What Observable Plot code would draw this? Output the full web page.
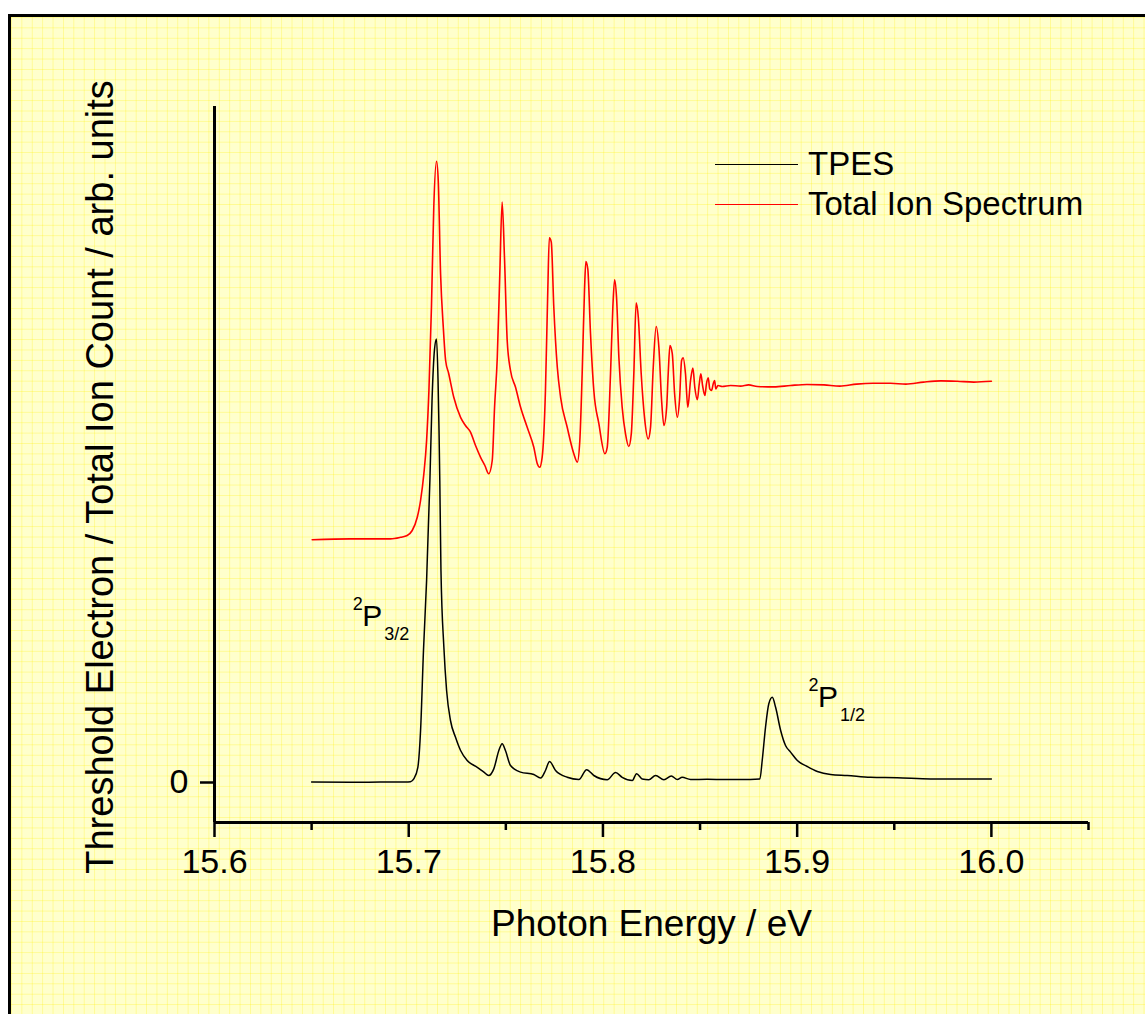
<!DOCTYPE html>
<html>
<head>
<meta charset="utf-8">
<script src="https://cdn.jsdelivr.net/npm/d3@7"></script>
<script src="https://cdn.jsdelivr.net/npm/@observablehq/plot@0.6"></script>
<style>
html, body { margin: 0; padding: 0; background: #fff; overflow: hidden; width: 1145px; height: 1014px; }
#page { position: relative; width: 1145px; height: 1014px; font-family: "Liberation Sans", Arial, sans-serif; }
#sheet {
  position: absolute; left: 8px; top: 14px; width: 1200px; height: 1100px;
  border-left: 3px solid #000; border-top: 3px solid #000; box-sizing: border-box;
  background-color: #FFFFCC;
  background-image:
    linear-gradient(to right, rgba(255, 240, 0, 0.28) 1px, transparent 1px),
    linear-gradient(to bottom, rgba(255, 240, 0, 0.28) 1px, transparent 1px);
  background-size: 10.4px 10.4px;
}
#chart { position: absolute; left: 0; top: 0; }
#legend { position: absolute; left: 715px; top: 144px; font-size: 33px; color: #000; }
.legend-row { display: flex; align-items: center; height: 40px; white-space: nowrap; }
.swatch { width: 83px; height: 0; border-top: 1.5px solid; margin-right: 10px; }
</style>
</head>
<body>
<div id="page">
  <div id="sheet"></div>
  <div id="chart"></div>
  <div id="legend"></div>
</div>
<script>
// ---- Data ----
const seriesNames = ["TPES", "Total Ion Spectrum"];
const seriesColors = ["#000000", "#ff0000"];

const tpesEnergy = [15.65, 15.6700, 15.6855, 15.6984, 15.7009, 15.7026, 15.7047, 15.7061, 15.7076, 15.7092,
  15.7109, 15.7120, 15.7133, 15.7143, 15.7151, 15.7156, 15.7160, 15.7166, 15.7181, 15.7195,
  15.7215, 15.7241, 15.7267, 15.7301, 15.7353, 15.7387, 15.7412, 15.7438, 15.7464, 15.7481,
  15.7498, 15.7524, 15.7576, 15.7644, 15.7679, 15.7704, 15.7725, 15.7756, 15.7816, 15.7876,
  15.7916, 15.7953, 15.8022, 15.8065, 15.8099, 15.8151, 15.8173, 15.8202, 15.8236, 15.8271,
  15.8314, 15.8352, 15.8383, 15.8408, 15.8451, 15.8537, 15.8631, 15.8709, 15.8808, 15.8820,
  15.8837, 15.8854, 15.8872, 15.8889, 15.8915, 15.8940, 15.8966, 15.9001, 15.9052, 15.9104,
  15.9172, 15.9258, 15.9378, 15.9515, 15.9687, 15.9858, 16.0];
const tpesSignal = [0.1, 0.05, 0.1, 0.1, 0.2, 0.9, 3.8, 13, 33, 50.5,
  75.5, 95.5, 108.4, 110.9, 100.5, 88, 75.5, 53, 33.8, 23,
  15.5, 11.3, 8, 5.5, 3.8, 2.6, 1.75, 3.4, 8, 9.7,
  8, 4.25, 2.6, 2, 1.1, 3, 5.25, 3, 1.3, 0.75,
  3.2, 1.75, 0.7, 2.5, 1.3, 0.5, 2.2, 0.9, 0.7, 1.75,
  0.7, 1.6, 0.75, 1.3, 0.75, 0.8, 0.75, 0.75, 0.9, 5.5,
  13.8, 19.7, 21.3, 18.8, 13, 9.25, 7.6, 5.5, 4, 2.75,
  2, 1.75, 1.3, 1.2, 0.9, 0.9, 0.9];

const ionEnergy = [15.6503, 15.6700, 15.6906, 15.6958, 15.6992, 15.7018, 15.7044, 15.7061, 15.7078, 15.7092,
  15.7104, 15.7117, 15.7129, 15.7143, 15.7152, 15.7164, 15.7178, 15.7190, 15.7206, 15.7232,
  15.7267, 15.7292, 15.7318, 15.7344, 15.7370, 15.7392, 15.7412, 15.7430, 15.7442, 15.7456,
  15.7469, 15.7481, 15.7493, 15.7507, 15.7524, 15.7550, 15.7576, 15.7610, 15.7644, 15.7662,
  15.7674, 15.7687, 15.7704, 15.7716, 15.7724, 15.7734, 15.7747, 15.7765, 15.7782, 15.7816,
  15.7850, 15.7868, 15.7881, 15.7893, 15.7905, 15.7912, 15.7922, 15.7936, 15.7953, 15.7979,
  15.8010, 15.8022, 15.8039, 15.8051, 15.8060, 15.8070, 15.8082, 15.8099, 15.8116, 15.8133,
  15.8146, 15.8159, 15.8171, 15.8182, 15.8197, 15.8214, 15.8233, 15.8245, 15.8259, 15.8274,
  15.8288, 15.8302, 15.8314, 15.8328, 15.8336, 15.8345, 15.8357, 15.8369, 15.8383, 15.8394,
  15.8405, 15.8413, 15.8425, 15.8437, 15.8451, 15.8463, 15.8473, 15.8486, 15.8496, 15.8504,
  15.8513, 15.8525, 15.8533, 15.8542, 15.8550, 15.8559, 15.8568, 15.8575, 15.8581, 15.8592,
  15.8614, 15.8657, 15.8709, 15.8750, 15.8795, 15.8880, 15.8966, 15.9050, 15.9138, 15.9220,
  15.9306, 15.9390, 15.9481, 15.9560, 15.9651, 15.9740, 15.9824, 15.9910, 16.0];
const ionSignal = [60.7, 60.9, 60.9, 61.3, 61.75, 63, 66.3, 70.5, 77.2, 85.5,
  98, 118.8, 143.8, 155.3, 150.5, 127.2, 113.8, 105.5, 102.2, 96.3,
  91.3, 89.25, 87.6, 84.25, 81.3, 79.25, 77.2, 80.5, 93.8, 106.3,
  127.2, 145.1, 131.3, 110.5, 103, 98.8, 93.8, 88.8, 83.8, 79.7,
  78.8, 81.3, 98, 123, 136.2, 135.1, 118.8, 103.8, 96.3, 88.8,
  82.2, 80.1, 85.5, 102.2, 123, 130.25, 128.4, 112.2, 98, 89.7,
  82.2, 83.8, 102.2, 118.8, 125.7, 121.3, 106.3, 93.8, 87.2, 84,
  87.2, 102.2, 119.9, 116.3, 102.2, 91.3, 85.9, 88.8, 103.8, 114,
  108.8, 95.5, 89.25, 93.8, 102.2, 109.25, 107.2, 97.2, 91.3, 95.5,
  105.5, 106.2, 102.2, 93.8, 100.5, 103.6, 98.8, 95.7, 99.7, 102.2,
  99.25, 96.75, 99.7, 101.2, 98.4, 98, 99.7, 100.5, 98.4, 99.25,
  99, 99.25, 99.1, 99.4, 99, 98.9, 99.25, 99.5, 99.4, 99.1,
  99.6, 99.8, 99.8, 99.6, 100.1, 100.4, 100.3, 100.1, 100.3];

const xMajorTicks = [15.6, 15.7, 15.8, 15.9, 16.0];
const xMinorTicks = [15.65, 15.75, 15.85, 15.95, 16.05];
const yTicks = [0];
const xDomain = [15.6, 16.05];
const yDomain = [-10, 169];

const annotationTerm = ["P", "P"];
const annotationSup = ["2", "2"];
const annotationSub = ["3/2", "1/2"];
const annotationEnergy = [15.6761, 15.9107];
const annotationLevel = [39.25, 19];

const xTitle = "Photon Energy / eV";
const yTitle = "Threshold Electron / Total Ion Count / arb. units";

// ---- Build tables ----
const tpes = tpesEnergy.map((e, i) => ({energy: e, signal: tpesSignal[i]}));
const ion = ionEnergy.map((e, i) => ({energy: e, signal: ionSignal[i]}));
const annotations = annotationTerm.map((t, i) => ({
  term: t, sup: annotationSup[i], sub: annotationSub[i],
  energy: annotationEnergy[i], level: annotationLevel[i]
}));

const font = "Liberation Sans, Arial, sans-serif";

const chart = Plot.plot({
  width: 1145,
  height: 1014,
  marginLeft: 214,
  marginRight: 57,
  marginTop: 106,
  marginBottom: 192,
  style: {background: "transparent", fontFamily: font, color: "#000", overflow: "visible"},
  x: {domain: xDomain},
  y: {domain: yDomain},
  marks: [
    Plot.axisX({ticks: xMajorTicks, tickFormat: d3.format(".1f"), tickSize: 15, tickPadding: 11,
      fontSize: 34, strokeWidth: 2.5, label: null}),
    Plot.axisX({ticks: xMinorTicks, tickFormat: () => "", tickSize: 8, strokeWidth: 2.5, label: null}),
    Plot.axisY({ticks: yTicks, tickFormat: d => String(d), tickSize: 14, tickPadding: 12,
      fontSize: 34, strokeWidth: 2.5, label: null}),
    Plot.ruleX([xDomain[0]], {stroke: "#000", strokeWidth: 3}),
    Plot.ruleY([yDomain[0]], {stroke: "#000", strokeWidth: 3}),
    Plot.line(ion, {x: "energy", y: "signal", stroke: seriesColors[1], strokeWidth: 1.6, curve: "monotone-x"}),
    Plot.line(tpes, {x: "energy", y: "signal", stroke: seriesColors[0], strokeWidth: 1.5, curve: "monotone-x"}),
    Plot.text(annotations, {x: "energy", y: "level", text: "term", fontSize: 30,
      textAnchor: "start", lineAnchor: "bottom", fill: "#000"}),
    Plot.text(annotations, {x: "energy", y: "level", text: "sup", fontSize: 18,
      textAnchor: "start", lineAnchor: "bottom", dx: -9.5, dy: -16, fill: "#000"}),
    Plot.text(annotations, {x: "energy", y: "level", text: "sub", fontSize: 18,
      textAnchor: "start", lineAnchor: "bottom", dx: 22, dy: 14, fill: "#000"}),
    Plot.text([xTitle], {text: d => d, frameAnchor: "bottom", textAnchor: "middle", dy: 113, fontSize: 37,
      lineAnchor: "bottom", fill: "#000"}),
    Plot.text([yTitle], {text: d => d, frameAnchor: "left", textAnchor: "middle", rotate: -90, dx: -102, dy: 12.5,
      fontSize: 38, lineAnchor: "bottom", fill: "#000"})
  ]
});
document.getElementById("chart").appendChild(chart);

// ---- Legend ----
const legend = document.getElementById("legend");
seriesNames.forEach((name, i) => {
  const row = document.createElement("div");
  row.className = "legend-row";
  const sw = document.createElement("span");
  sw.className = "swatch";
  sw.style.borderTopColor = seriesColors[i];
  const label = document.createElement("span");
  label.textContent = name;
  row.appendChild(sw);
  row.appendChild(label);
  legend.appendChild(row);
});
</script>
</body>
</html>
